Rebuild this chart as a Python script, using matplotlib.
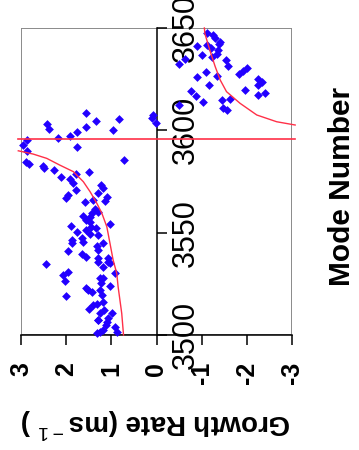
import matplotlib.pyplot as plt
from matplotlib.patches import Rectangle

plt.rcParams["font.family"] = ["Liberation Sans", "DejaVu Sans"]
plt.rcParams["mathtext.fontset"] = "custom"
plt.rcParams["mathtext.rm"] = "Liberation Sans"
plt.rcParams["axes.unicode_minus"] = False

# measured growth rates (scatter)
mode_obs = [
    3608.3, 3605.5, 3604.5, 3602.9, 3600.8, 3601.8, 3600.1, 3599.0, 3597.2, 3596.4,
    3595.3, 3592.8, 3589.9, 3591.7, 3585.3, 3584.5, 3583.4, 3582.6, 3581.4, 3580.6,
    3579.8, 3578.7, 3577.0, 3576.2, 3574.1, 3570.8, 3573.3, 3571.7, 3569.5, 3568.4,
    3566.8, 3567.6, 3565.6, 3565.1, 3561.4, 3559.7, 3560.2, 3558.1, 3556.2, 3557.5,
    3554.2, 3553.4, 3552.9, 3550.2, 3549.3, 3548.9, 3546.4, 3545.6, 3544.8, 3543.5,
    3541.5, 3541.2, 3539.6, 3538.3, 3537.5, 3537.5, 3534.7, 3535.8, 3533.1, 3535.0,
    3530.9, 3529.3, 3526.4, 3530.1, 3527.7, 3525.3, 3523.9, 3522.8, 3521.2, 3519.5,
    3519.2, 3516.3, 3515.0, 3512.7, 3512.2, 3510.6, 3510.9, 3507.3, 3508.2, 3504.9,
    3504.1, 3501.6, 3500.8, 3502.4, 3555.3, 3551.3, 3547.2, 3535.8, 3527.7, 3522.0,
    3522.0, 3514.7, 3506.5, 3501.6, 3507.3, 3552.3, 3566.0, 3544.9,
    3607.5, 3603.7, 3606.0,
    3647.7, 3646.7, 3645.1, 3643.1, 3641.2, 3641.5, 3640.2, 3639.1, 3637.4, 3636.6,
    3635.8, 3635.0, 3632.5, 3634.2, 3631.3, 3630.4, 3628.8, 3627.4, 3628.5, 3626.5,
    3626.0, 3624.9, 3623.6, 3622.3, 3622.0, 3619.8, 3619.1, 3618.4, 3617.4, 3616.8,
    3614.7, 3615.4, 3613.8, 3612.2, 3610.9, 3609.8, 3642.2,
]
growth_obs = [
    1.55, 0.83, 1.34, 2.42, 2.37, 1.55, 0.96, 1.75, 1.92, 2.17,
    2.87, 2.96, 2.87, 1.75, 0.71, 2.90, 2.82, 2.51, 2.48, 2.28,
    1.49, 1.78, 2.11, 1.92, 1.84, 1.78, 1.23, 1.18, 1.29, 1.95,
    2.00, 1.10, 1.14, 1.58, 1.36, 1.42, 1.30, 1.62, 1.55, 1.47,
    1.03, 1.90, 1.45, 1.75, 1.47, 1.29, 1.88, 1.62, 1.86, 1.32,
    1.29, 1.97, 1.66, 1.55, 1.29, 1.07, 2.45, 1.29, 1.18, 1.03,
    1.97, 2.08, 2.03, 0.92, 1.18, 1.23, 1.04, 1.55, 1.42, 1.21,
    2.00, 1.18, 1.32, 1.49, 1.16, 1.25, 0.99, 1.30, 1.07, 1.12,
    0.92, 0.88, 1.32, 1.18, 1.47, 1.55, 1.66, 1.07, 1.25, 1.51,
    1.25, 1.40, 1.10, 1.25, 1.29, 1.34, 1.41, 1.18,
    0.07, 0.01, 0.10,
    -1.12, -1.26, -1.30, -1.41, -0.89, -1.12, -1.21, -1.37, -1.33, -1.00,
    -1.22, -0.63, -0.50, -1.54, -1.59, -2.00, -1.92, -1.83, -1.09, -1.33,
    -0.89, -2.25, -2.34, -2.24, -1.17, -1.96, -0.76, -2.40, -2.24, -0.87,
    -1.44, -1.63, -1.04, -0.50, -1.47, -1.57, -1.38,
]

# theory curve, two branches either side of the resonance
mode_fit_low = [3500.0, 3510.6, 3523.6, 3530.1, 3536.6, 3544.8, 3552.9, 3559.5,
                3564.3, 3570.0, 3574.9, 3579.8, 3583.0, 3586.3, 3588.4, 3590.0]
growth_fit_low = [0.73, 0.77, 0.85, 0.88, 0.96, 1.03, 1.10, 1.21,
                  1.32, 1.47, 1.62, 1.84, 2.14, 2.43, 2.73, 3.06]
mode_fit_high = [3650.0, 3647.4, 3639.2, 3631.1, 3624.6, 3618.9, 3613.2,
                 3607.5, 3604.2, 3602.6]
growth_fit_high = [-1.06, -1.07, -1.18, -1.30, -1.41, -1.55, -1.85,
                   -2.22, -2.66, -3.07]
mode_resonance = 3595.9

growth_ticks = [3, 2, 1, 0, -1, -2, -3]
growth_labels = ["3", "2", "1", "0", "-1", "-2", "-3"]
mode_ticks = [3500, 3550, 3600, 3650]

RED = "#ff3048"
BLUE = "#2200ff"

fig = plt.figure(figsize=(3.59, 4.5), dpi=100)
ax = fig.add_axes([21 / 359, 1 - 335 / 450, 271 / 359, 307 / 450])
ax.set_xlim(3, -3)
ax.set_ylim(3500, 3650)

ax.scatter(growth_obs, mode_obs, marker="D", s=20, color=BLUE, linewidths=0,
           zorder=3, clip_on=False)
ax.plot(growth_fit_low, mode_fit_low, color=RED, lw=1.0, zorder=4, clip_on=False)
ax.plot(growth_fit_high, mode_fit_high, color=RED, lw=1.0, zorder=4, clip_on=False)
ax.axhline(mode_resonance, xmin=-0.012, xmax=1.012, color=RED, lw=1.2,
           zorder=4, clip_on=False)

# grey frame, black axes (growth along the bottom, mode number through zero)
ax.add_patch(Rectangle((0, 0), 1, 1, transform=ax.transAxes, fill=False,
                       edgecolor="#8a8a8a", lw=1.4, zorder=1))
for side in ("left", "top"):
    ax.spines[side].set_visible(False)
ax.spines["bottom"].set_color("black")
ax.spines["bottom"].set_linewidth(1.1)
ax.spines["right"].set_position(("data", 0))
ax.spines["right"].set_color("black")
ax.spines["right"].set_linewidth(1.1)
ax.yaxis.tick_right()

ax.set_xticks(growth_ticks)
ax.set_xticklabels(growth_labels, rotation=90, fontweight="bold", fontsize=18,
                   va="top", ha="center")
ax.tick_params(axis="x", direction="out", length=7.5, width=1.1, pad=12)

ax.set_yticks(mode_ticks)
ax.set_yticklabels([str(t) for t in mode_ticks], rotation=90, fontsize=22,
                   va="center", ha="left")
ax.tick_params(axis="y", direction="out", length=7, width=1.1, pad=3)

fig.text(156 / 359, 1 - 423 / 450, r"Growth Rate (ms$^{\rm -1}$ )",
         rotation=180, fontweight="bold", fontsize=20, ha="center", va="center")
fig.text(342 / 359, 1 - 186 / 450, "Mode Number", rotation=90,
         fontweight="bold", fontsize=21.5, ha="center", va="center")

fig.savefig("out.png", dpi=100, facecolor="white")
